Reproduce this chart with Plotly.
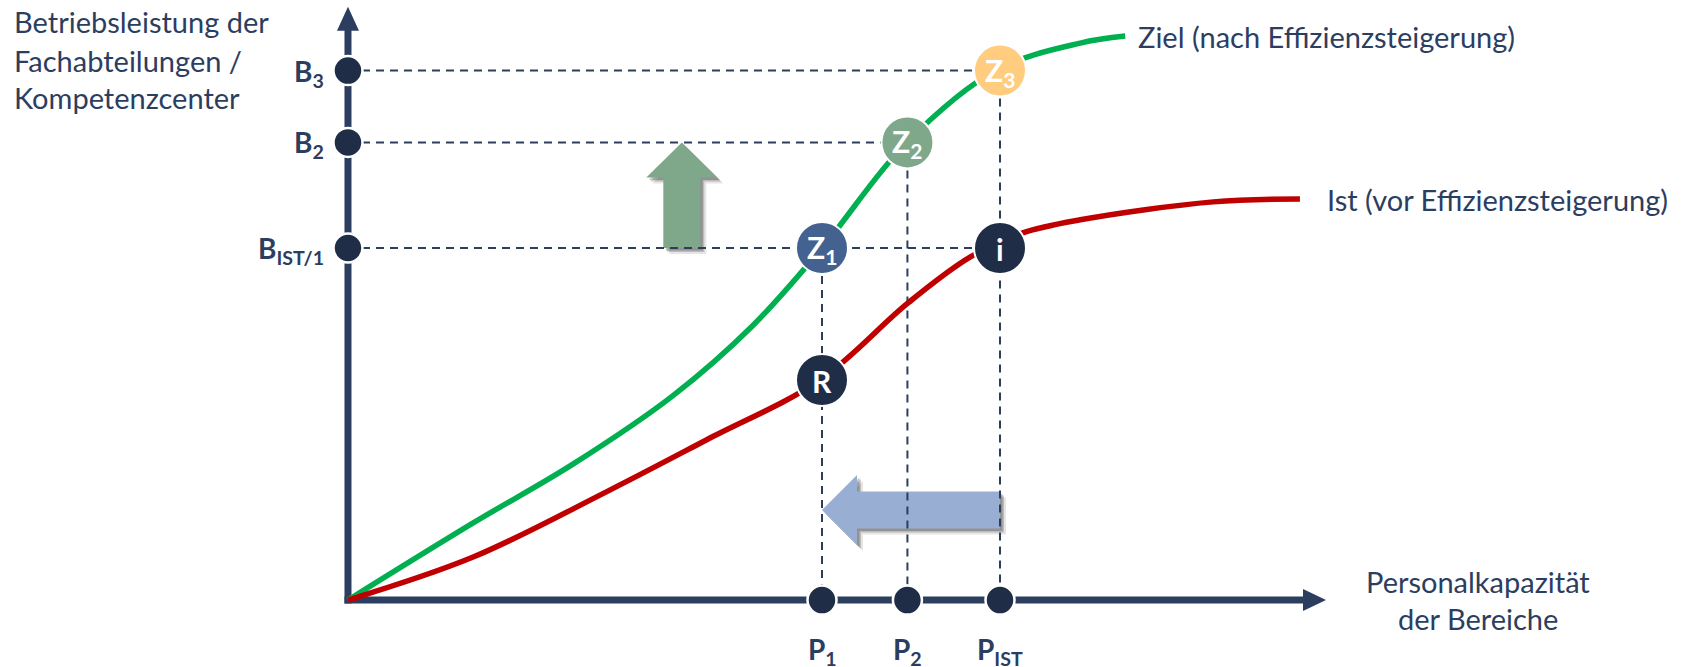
import plotly.graph_objects as go

# ---------------- data (conceptual units) ----------------
P_LABELS = ["P<sub>1</sub>", "P<sub>2</sub>", "P<sub>IST</sub>"]
P_VALUES = [72.7, 85.8, 100.0]
B_LABELS = ["B<sub>IST/1</sub>", "B<sub>2</sub>", "B<sub>3</sub>"]
B_VALUES = [100.0, 130.0, 150.4]
R_VALUE = 62.5

ZIEL_X = [0, 19.2, 34.5, 49.8, 62.1, 72.7, 85.6, 99.5, 112.3, 119.2]
ZIEL_Y = [0, 21.9, 38.6, 58.0, 78.0, 100.0, 129.8, 150.6, 158.2, 160.2]
IST_X = [0, 19.2, 39.7, 55.1, 72.4, 85.9, 95.4, 103.5, 112.3, 132.7, 146.0]
IST_Y = [0, 12.2, 30.8, 45.6, 62.5, 84.4, 97.4, 104.3, 108.0, 113.1, 113.9]

SERIES_NAMES = ["Ziel (nach Effizienzsteigerung)", "Ist (vor Effizienzsteigerung)"]
X_TITLE = ["Personalkapazität", "der Bereiche"]
Y_TITLE = ["Betriebsleistung der", "Fachabteilungen /", "Kompetenzcenter"]

# ---------------- styling ----------------
W, H = 1686, 667
X_RANGE = [-53.37, 205.21]
Y_RANGE = [-19.03, 170.45]
NAVY = "#2C3E5F"
DOT = "#1F2D47"
GREEN = "#00B050"
RED = "#C00000"
FONT = "Lato"
TXT = "#2C3E5F"

def sx(px):
    return px / (W / (X_RANGE[1] - X_RANGE[0]))

def sy(px):
    return px / (H / (Y_RANGE[1] - Y_RANGE[0]))

P1, P2, PIST = P_VALUES
BIST, B2, B3 = B_VALUES

fig = go.Figure()

# dashed guide lines
gx, gy = [], []
for xv, yv in [(PIST, B3), (P2, B2), (PIST, BIST)]:
    gx += [0, xv, None]; gy += [yv, yv, None]
for xv, yv in [(P1, BIST), (P2, B2), (PIST, B3)]:
    gx += [xv, xv, None]; gy += [yv, 0, None]
fig.add_trace(go.Scatter(x=gx, y=gy, mode="lines",
                         line=dict(color=NAVY, width=2, dash="8px,6px"),
                         hoverinfo="skip", showlegend=False))

# curves
fig.add_trace(go.Scatter(x=ZIEL_X, y=ZIEL_Y, mode="lines", name=SERIES_NAMES[0],
                         line=dict(color=GREEN, width=5.5, shape="spline", smoothing=1.0),
                         showlegend=False))
fig.add_trace(go.Scatter(x=IST_X, y=IST_Y, mode="lines", name=SERIES_NAMES[1],
                         line=dict(color=RED, width=5.5, shape="spline", smoothing=1.0),
                         showlegend=False))

# axis dots
fig.add_trace(go.Scatter(x=[0] * 3 + P_VALUES, y=B_VALUES + [0] * 3, mode="markers",
                         marker=dict(size=29, color=DOT, line=dict(color="white", width=2.5)),
                         hoverinfo="skip", showlegend=False))

# big circles
CIRCLE_X = [P1, P2, PIST, PIST, P1]
CIRCLE_Y = [BIST, B2, B3, BIST, R_VALUE]
CIRCLE_TXT = ["Z<sub>1</sub>", "Z<sub>2</sub>", "Z<sub>3</sub>", "i", "R"]
CIRCLE_COL = ["#44628F", "#7FA88A", "#FFCC80", DOT, DOT]
fig.add_trace(go.Scatter(x=CIRCLE_X, y=CIRCLE_Y, mode="markers",
                         marker=dict(size=52, color=CIRCLE_COL, line=dict(color="white", width=2)),
                         hoverinfo="skip", showlegend=False))

ann = []
for xv, yv, t in zip(CIRCLE_X, CIRCLE_Y, CIRCLE_TXT):
    ann.append(dict(x=xv, y=yv, text=t, showarrow=False, xanchor="center", yanchor="middle",
                    font=dict(family=FONT, size=30, color="white", weight="bold"), yshift=-1))
for lab, yv in zip(B_LABELS, B_VALUES):
    ann.append(dict(x=0, y=yv, text=lab, showarrow=False, xanchor="right", yanchor="middle",
                    xshift=-22, yshift=-2, font=dict(family=FONT, size=28, color=TXT, weight="bold")))
for lab, xv in zip(P_LABELS, P_VALUES):
    ann.append(dict(x=xv, y=0, text=lab, showarrow=False, xanchor="center", yanchor="middle",
                    yshift=-51, font=dict(family=FONT, size=28, color=TXT, weight="bold")))

# series labels at the curve ends
ann.append(dict(x=ZIEL_X[-1], y=ZIEL_Y[-1], text=SERIES_NAMES[0], showarrow=False,
                xanchor="left", yanchor="middle", xshift=11, yshift=0,
                font=dict(family=FONT, size=29, color=TXT)))
ann.append(dict(x=IST_X[-1], y=IST_Y[-1], text=SERIES_NAMES[1], showarrow=False,
                xanchor="left", yanchor="middle", xshift=25, yshift=0,
                font=dict(family=FONT, size=29, color=TXT)))

# axis titles
for i, line in enumerate(Y_TITLE):
    ann.append(dict(xref="paper", yref="paper", x=12 / W, y=1 - (22 + 38 * i) / H, text=line,
                    showarrow=False, xanchor="left", yanchor="middle",
                    font=dict(family=FONT, size=29, color=TXT)))
for i, line in enumerate(X_TITLE):
    ann.append(dict(xref="paper", yref="paper", x=1478 / W, y=1 - (581 + 37 * i) / H, text=line,
                    showarrow=False, xanchor="center", yanchor="middle",
                    font=dict(family=FONT, size=29, color=TXT)))

shapes = []
# axes
AX_X_MAX, AX_Y_MAX = 150.0, 168.5
head_len_x, head_half_x = sx(23), sy(11)
head_len_y, head_half_y = sy(24), sx(11)
shapes.append(dict(type="line", x0=sx(-3.5), y0=0, x1=AX_X_MAX - head_len_x + 0.5, y1=0,
                   line=dict(color=NAVY, width=7), layer="below"))
shapes.append(dict(type="line", x0=0, y0=-sy(3.5), x1=0, y1=AX_Y_MAX - head_len_y + 0.5,
                   line=dict(color=NAVY, width=7), layer="below"))
shapes.append(dict(type="path",
                   path=f"M {AX_X_MAX},0 L {AX_X_MAX-head_len_x},{head_half_x} L {AX_X_MAX-head_len_x},{-head_half_x} Z",
                   fillcolor=NAVY, line=dict(width=0), layer="below"))
shapes.append(dict(type="path",
                   path=f"M 0,{AX_Y_MAX} L {head_half_y},{AX_Y_MAX-head_len_y} L {-head_half_y},{AX_Y_MAX-head_len_y} Z",
                   fillcolor=NAVY, line=dict(width=0), layer="below"))

def h_arrow(x_tail, x_tip, yc, dx=0.0, dy=0.0):
    bh, hh, hl = sy(18.5), sy(35), sx(35)
    pts = [(x_tip, yc), (x_tip + hl, yc + hh), (x_tip + hl, yc + bh), (x_tail, yc + bh),
           (x_tail, yc - bh), (x_tip + hl, yc - bh), (x_tip + hl, yc - hh)]
    return "M " + " L ".join(f"{x+dx},{y+dy}" for x, y in pts) + " Z"

def v_arrow(y_tail, y_tip, xc, dx=0.0, dy=0.0):
    bw, hw, hl = sx(18.5), sx(35.5), sy(35)
    pts = [(xc, y_tip), (xc + hw, y_tip - hl), (xc + bw, y_tip - hl), (xc + bw, y_tail),
           (xc - bw, y_tail), (xc - bw, y_tip - hl), (xc - hw, y_tip - hl)]
    return "M " + " L ".join(f"{x+dx},{y+dy}" for x, y in pts) + " Z"

BLUE_Y = 25.6
GREEN_X = 51.2
for k, a in [(6, 0.10), (4, 0.18), (2.5, 0.22)]:
    shapes.append(dict(type="path", path=h_arrow(PIST, P1, BLUE_Y, sx(k), -sy(k)),
                       fillcolor=f"rgba(0,0,0,{a})", line=dict(width=0), layer="below"))
    shapes.append(dict(type="path", path=v_arrow(BIST, B2, GREEN_X, sx(k), -sy(k)),
                       fillcolor=f"rgba(0,0,0,{a})", line=dict(width=0), layer="below"))
shapes.append(dict(type="path", path=h_arrow(PIST, P1, BLUE_Y), fillcolor="#98AFD3",
                   line=dict(width=0), layer="below"))
shapes.append(dict(type="path", path=v_arrow(BIST, B2, GREEN_X), fillcolor="#7FA88A",
                   line=dict(width=0), layer="below"))

fig.update_layout(
    width=W, height=H, margin=dict(l=0, r=0, t=0, b=0),
    paper_bgcolor="white", plot_bgcolor="white",
    xaxis=dict(range=X_RANGE, visible=False, fixedrange=True),
    yaxis=dict(range=Y_RANGE, visible=False, fixedrange=True),
    annotations=ann, shapes=shapes, showlegend=False,
)
fig.write_html("out.html")
